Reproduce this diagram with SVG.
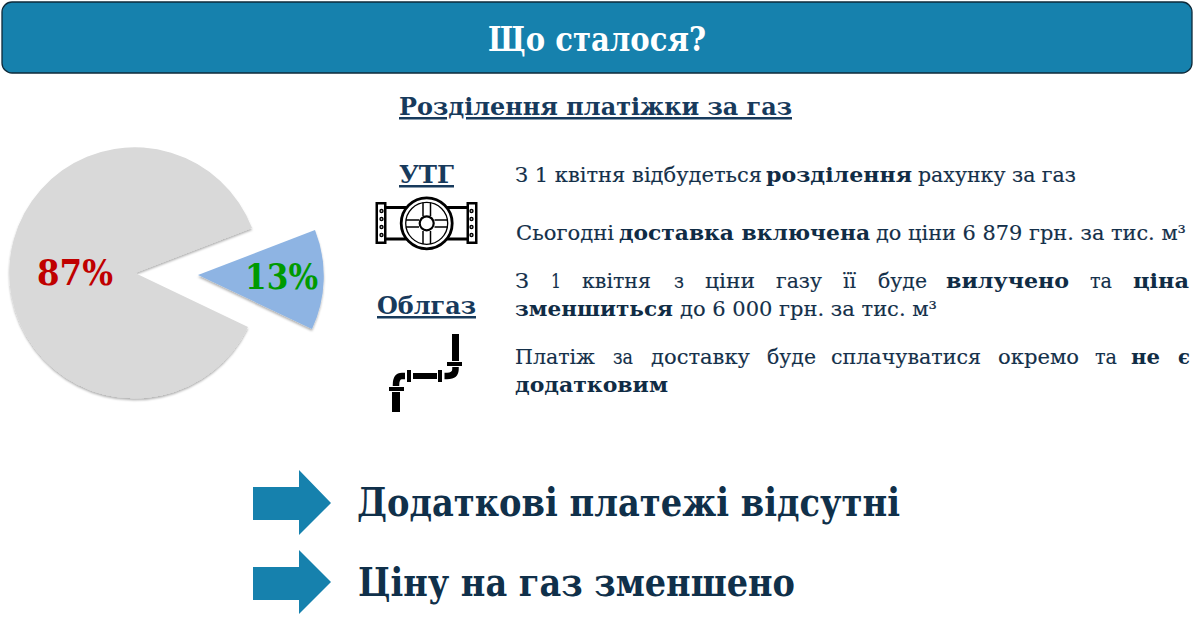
<svg xmlns="http://www.w3.org/2000/svg" width="1194" height="620" viewBox="0 0 1194 620">
<defs>
<style>
text{font-family:"DejaVu Serif","Liberation Serif",serif;fill:#17375e}
.b{font-weight:700}
.t{font-size:21px;fill:#14304a;stroke:#14304a;stroke-width:.15px}
.tb{font-size:21px;font-weight:700;fill:#102c45}
.h{font-size:25px;font-weight:700;text-decoration:underline;fill:#173a5c}
.big{font-size:40px;font-weight:700;fill:#10304a}
.pct{font-size:36px;font-weight:700}
.ar{fill:#1681ad}
.k{fill:#000}
.n{fill:none;stroke:#000}
</style>
<filter id="sh" x="-10%" y="-10%" width="120%" height="120%"><feDropShadow dx="0" dy="2" stdDeviation="1" flood-color="#000" flood-opacity=".3"/></filter>
</defs>
<g id="header"><rect x="2" y="2" width="1190" height="71" rx="10" fill="#1681ad" stroke="#0e2a3a" stroke-width="1.3"/>
<text x="488" y="51" textLength="218" lengthAdjust="spacingAndGlyphs" font-size="33" class="b" style="fill:#fff">Що сталося?</text></g>
<g id="subtitle"><text x="399" y="115" textLength="393" lengthAdjust="spacingAndGlyphs" class="h">Розділення платіжки за газ</text></g>
<g id="pie-large"><path d="M135 273L252 228A125.500 125.500 0 1 0 248 327Z" fill="#d9d9d9" filter="url(#sh)"/><text x="37" y="285" textLength="76" lengthAdjust="spacingAndGlyphs" class="pct" style="fill:#c00000">87%</text></g>
<g id="pie-small"><path d="M198 275L315 230A125 125 0 0 1 312 329Z" fill="#8eb4e3" filter="url(#sh)"/><text x="245" y="289" textLength="73" lengthAdjust="spacingAndGlyphs" class="pct" style="fill:#009a00">13%</text></g>
<g id="utg"><text x="399" y="183" textLength="55" lengthAdjust="spacingAndGlyphs" class="h">УТГ</text>
<rect class="k" x="375.500" y="202" width="11" height="42"/><rect class="k" x="466.500" y="202" width="11" height="42"/>
<rect x="378" y="204.500" width="6" height="37" fill="#fff"/><rect x="469" y="204.500" width="6" height="37" fill="#fff"/>
<g fill="#fff" stroke="#000" stroke-width="1.400"><circle cx="381.500" cy="211" r="1.500"/><circle cx="381.500" cy="219" r="1.500"/><circle cx="381.500" cy="227" r="1.500"/><circle cx="381.500" cy="235" r="1.500"/><circle cx="471.500" cy="211" r="1.500"/><circle cx="471.500" cy="219" r="1.500"/><circle cx="471.500" cy="227" r="1.500"/><circle cx="471.500" cy="235" r="1.500"/></g>
<path class="n" stroke-width="2.800" d="M386 207.500H410M386 239H410M443 207.500H467M443 239H467"/>
<circle cx="426.700" cy="223.300" r="25.500" fill="#fff" stroke="#000" stroke-width="2.800"/><circle cx="426.700" cy="223.300" r="21" class="n" stroke-width="1.300"/>
<path class="n" stroke-width="1.500" d="M423 202.500V216M430.500 202.500V216M423 231V244M430.500 231V244M406 220H419M406 227H419M434.500 220H447.500M434.500 227H447.500"/>
<circle cx="426.700" cy="223.300" r="7" fill="#fff" stroke="#000" stroke-width="2.200"/></g>
<g id="oblgaz"><text x="377" y="314" textLength="99" lengthAdjust="spacingAndGlyphs" class="h">Облгаз</text>
<rect class="k" x="452" y="334" width="7" height="27"/><rect class="k" x="447" y="362" width="15" height="4"/>
<path class="n" stroke-width="6.500" d="M455.500 367V369Q455.500 376 447 376H444.500"/><rect class="k" x="438" y="370" width="4" height="12"/><rect class="k" x="413" y="373" width="24" height="6"/><rect class="k" x="407" y="370" width="4" height="12"/>
<path class="n" stroke-width="6.500" d="M405 376H402Q396 376 396 385V386"/><rect class="k" x="389" y="387" width="15" height="4"/><rect class="k" x="392" y="392" width="8" height="20"/></g>
<g id="body">
<text x="515" y="182" textLength="247" lengthAdjust="spacingAndGlyphs" class="t">З 1 квітня відбудеться</text><text x="766" y="182" textLength="146" lengthAdjust="spacingAndGlyphs" class="tb">розділення</text><text x="918" y="182" textLength="158" lengthAdjust="spacingAndGlyphs" class="t">рахунку за газ</text>
<text x="516" y="240" textLength="98" lengthAdjust="spacingAndGlyphs" class="t">Сьогодні</text><text x="619" y="240" textLength="251" lengthAdjust="spacingAndGlyphs" class="tb">доставка включена</text><text x="876" y="240" textLength="310" lengthAdjust="spacingAndGlyphs" class="t">до ціни 6 879 грн. за тис. м³</text>
<text x="515" y="288" textLength="14" lengthAdjust="spacingAndGlyphs" class="t">З</text><text x="551" y="288" textLength="10" lengthAdjust="spacingAndGlyphs" class="t">1</text><text x="582" y="288" textLength="69" lengthAdjust="spacingAndGlyphs" class="t">квітня</text><text x="674" y="288" textLength="10" lengthAdjust="spacingAndGlyphs" class="t">з</text><text x="705" y="288" textLength="50" lengthAdjust="spacingAndGlyphs" class="t">ціни</text><text x="776" y="288" textLength="46" lengthAdjust="spacingAndGlyphs" class="t">газу</text><text x="843" y="288" textLength="13" lengthAdjust="spacingAndGlyphs" class="t">її</text><text x="878" y="288" textLength="49" lengthAdjust="spacingAndGlyphs" class="t">буде</text><text x="946" y="288" textLength="123" lengthAdjust="spacingAndGlyphs" class="tb">вилучено</text><text x="1090" y="288" textLength="22" lengthAdjust="spacingAndGlyphs" class="t">та</text><text x="1133" y="288" textLength="56" lengthAdjust="spacingAndGlyphs" class="tb">ціна</text>
<text x="515" y="316" textLength="158" lengthAdjust="spacingAndGlyphs" class="tb">зменшиться</text><text x="680" y="316" textLength="257" lengthAdjust="spacingAndGlyphs" class="t">до 6 000 грн. за тис. м³</text>
<text x="515" y="364" textLength="80" lengthAdjust="spacingAndGlyphs" class="t">Платіж</text><text x="613" y="364" textLength="20" lengthAdjust="spacingAndGlyphs" class="t">за</text><text x="651" y="364" textLength="99" lengthAdjust="spacingAndGlyphs" class="t">доставку</text><text x="767" y="364" textLength="49" lengthAdjust="spacingAndGlyphs" class="t">буде</text><text x="831" y="364" textLength="150" lengthAdjust="spacingAndGlyphs" class="t">сплачуватися</text><text x="998" y="364" textLength="81" lengthAdjust="spacingAndGlyphs" class="t">окремо</text><text x="1095" y="364" textLength="22" lengthAdjust="spacingAndGlyphs" class="t">та</text><text x="1131" y="364" textLength="29" lengthAdjust="spacingAndGlyphs" class="tb">не</text><text x="1178" y="364" textLength="12" lengthAdjust="spacingAndGlyphs" class="tb">є</text>
<text x="515" y="392" textLength="153" lengthAdjust="spacingAndGlyphs" class="tb">додатковим</text>
</g>
<g id="conclusion-1"><path class="ar" d="M253 487H299V470L331 503L299 535V520H253Z"/><text x="357" y="516" textLength="543" lengthAdjust="spacingAndGlyphs" class="big">Додаткові платежі відсутні</text></g>
<g id="conclusion-2"><path class="ar" d="M253 567H299V550L331 582L299 614V600H253Z"/><text x="358" y="596" textLength="437" lengthAdjust="spacingAndGlyphs" class="big">Ціну на газ зменшено</text></g>
</svg>
